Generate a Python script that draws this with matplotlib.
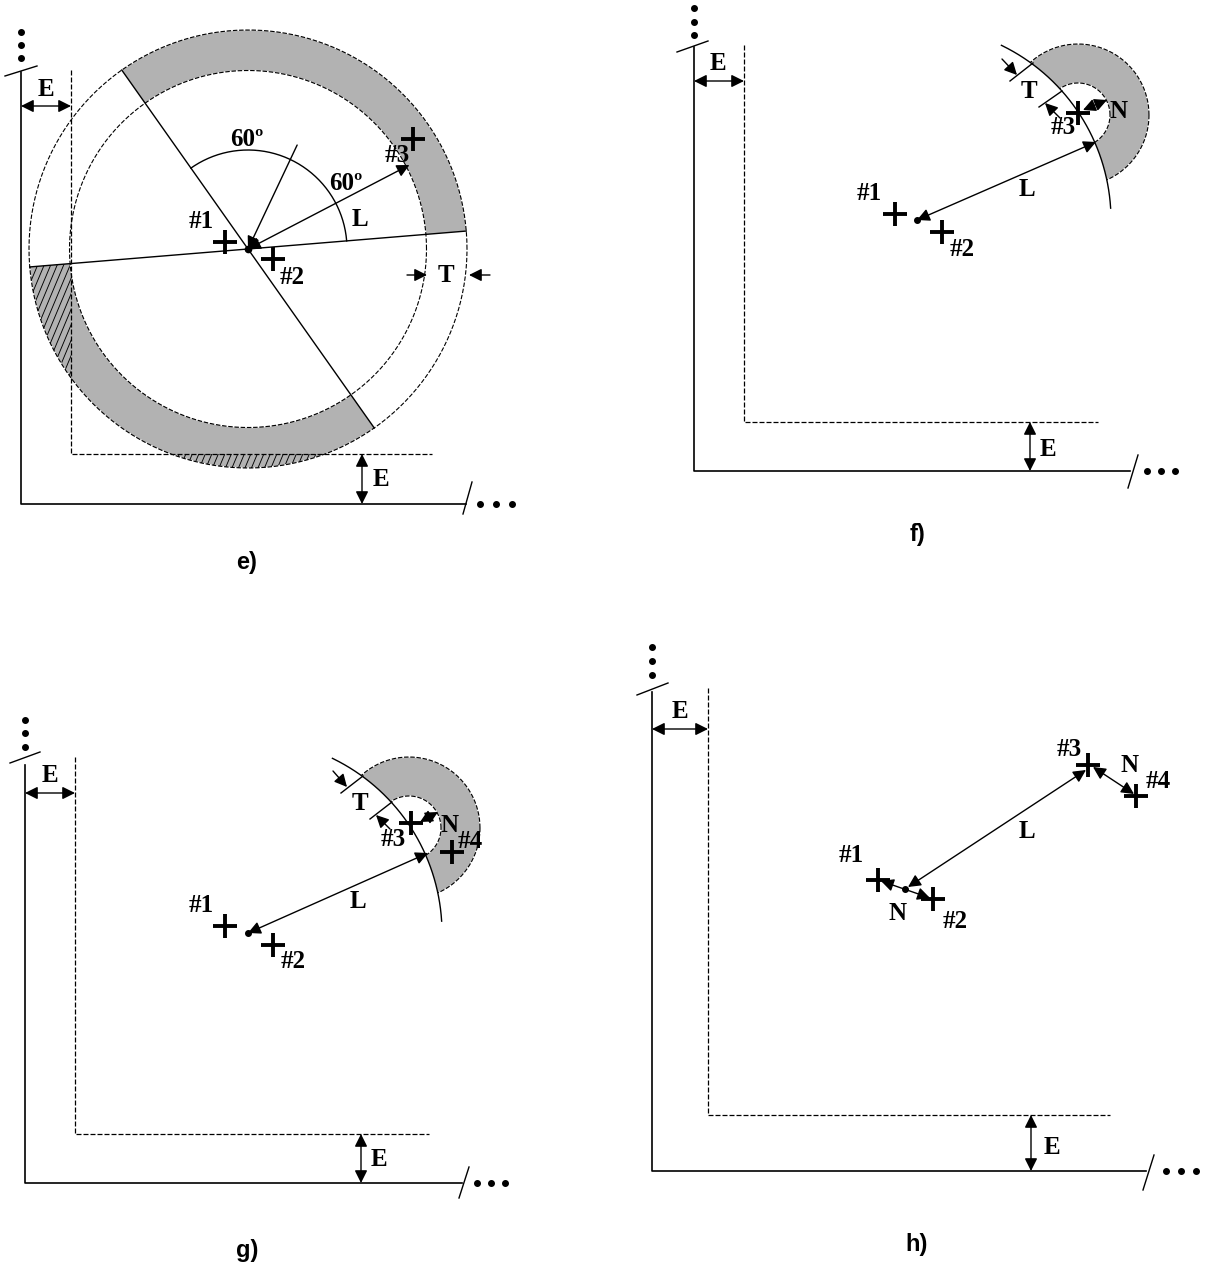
import numpy as np
import matplotlib
matplotlib.use("Agg")
import matplotlib.pyplot as plt
from matplotlib.path import Path
from matplotlib.patches import PathPatch, Rectangle, Circle

WIDTH, HEIGHT = 1210, 1265
GREY = "#b2b2b2"
SERIF = "Liberation Serif"

# ---- panel e ----
e_center = (248, 249)
e_radii = (178.5, 219)
e_split_deg = (4.7, 125.2, 184.7, 305.2)
e_axis = dict(x=21, y=504, top=72, right=466, dash_x=71, dash_y=454, dash_top=70, dash_right=432)
e_slash_v = [(5, 76), (37, 66)]
e_slash_h = [(463, 514), (472, 482)]
e_dots_v = [(21, 32), (21, 45), (21, 58)]
e_dots_h = [(480, 504), (496, 504), (512, 504)]
e_e_h = (106,)
e_e_v = (362,)
e_crosses = [(225, 242), (273, 259), (413, 139)]
e_labels = [("#1", 201, 222), ("#2", 292, 277), ("#3", 397, 155), ("E", 46, 89), ("E", 381, 480),
            ("T", 446, 276), ("L", 360, 219), ("60º", 247, 140), ("60º", 346, 184)]
e_caption = ("e)", 247, 563)

# ---- panel f ----
f_center = (917, 220)
f_big_r = 194
f_big_arc = (3.5, 64.2)
f_ring_center = (1078, 115)
f_ring_radii = (32, 71)
f_axis = dict(x=694, y=471, top=47, right=1130, dash_x=744, dash_y=422, dash_top=45, dash_right=1098)
f_slash_v = [(677, 52), (708, 41)]
f_slash_h = [(1128, 488), (1138, 455)]
f_dots_v = [(694, 8), (694, 22), (694, 35)]
f_dots_h = [(1147, 471), (1161, 471), (1175, 471)]
f_e_h = (81,)
f_e_v = (1030,)
f_crosses = [(895, 214), (942, 232), (1078, 113)]
f_segments = [[(1010, 81), (1033, 63)], [(1039, 107), (1062, 91)]]
f_arrows = [((1002, 59), (1017, 75)), ((1060, 118), (1045, 103))]
f_double = [((1083, 110), (1107, 100)), ((917, 220), (1096, 142))]
f_labels = [("#1", 869, 193), ("#2", 962, 250), ("#3", 1063, 128), ("T", 1029, 92), ("N", 1119, 112),
            ("L", 1027, 190), ("E", 718, 64), ("E", 1048, 449)]
f_caption = ("f)", 917, 534)

# ---- panel g ----
g_center = (248, 933)
g_big_r = 194
g_big_arc = (3.5, 64.2)
g_ring_center = (409, 828)
g_ring_radii = (32, 71)
g_axis = dict(x=25, y=1183, top=765, right=462, dash_x=75, dash_y=1134, dash_top=757, dash_right=429)
g_slash_v = [(10, 763), (40, 752)]
g_slash_h = [(459, 1198), (469, 1167)]
g_dots_v = [(25, 720), (25, 733), (25, 747)]
g_dots_h = [(477, 1183), (491, 1183), (505, 1183)]
g_e_h = (793,)
g_e_v = (361,)
g_crosses = [(225, 926), (273, 945), (411, 823), (452, 852)]
g_segments = [[(341, 793), (363, 776)], [(370, 819), (392, 802)]]
g_arrows = [((333, 771), (347, 787)), ((390, 829), (376, 815))]
g_double = [((420, 822), (438, 812)), ((248, 933), (428, 853))]
g_labels = [("#1", 201, 905), ("#2", 293, 961), ("#3", 393, 840), ("T", 360, 803), ("N", 450, 825),
            ("#4", 470, 842), ("L", 358, 902), ("E", 50, 776), ("E", 379, 1160)]
g_caption = ("g)", 247, 1250)

# ---- panel h ----
h_center = (905, 889)
h_axis = dict(x=652, y=1171, top=692, right=1146, dash_x=708, dash_y=1115, dash_top=688, dash_right=1110)
h_slash_v = [(637, 695), (668, 683)]
h_slash_h = [(1143, 1190), (1154, 1155)]
h_dots_v = [(652, 647), (652, 661), (652, 675)]
h_dots_h = [(1166, 1171), (1181, 1171), (1196, 1171)]
h_e_h = (729,)
h_e_v = (1031,)
h_crosses = [(878, 880), (933, 899), (1088, 765), (1136, 796)]
h_double = [((881, 881), (930, 898)), ((908, 887), (1086, 770)), ((1093, 767), (1134, 794))]
h_labels = [("#1", 851, 856), ("#2", 955, 921), ("#3", 1069, 750), ("N", 1130, 765), ("#4", 1158, 781),
            ("L", 1027, 832), ("N", 898, 914), ("E", 680, 711), ("E", 1052, 1147)]
h_caption = ("h)", 917, 1245)

# hatch strokes of panel e: x at the top of each stroke
hatch_offsets = np.arange(0, 560, 6.5)
hatch_lean = 0.42
hatch_top, hatch_bottom = 200, 480

fig = plt.figure(figsize=(WIDTH / 100, HEIGHT / 100), dpi=100)
ax = fig.add_axes([0, 0, 1, 1])
ax.set_xlim(0, WIDTH)
ax.set_ylim(HEIGHT, 0)
ax.axis("off")


def arc(c, r, a0, a1, n=200):
    t = np.radians(np.linspace(a0, a1, n))
    return c[0] + r * np.cos(t), c[1] - r * np.sin(t)


def ring_path(c, r0, r1, a0, a1):
    x1, y1 = arc(c, r1, a0, a1)
    x0, y0 = arc(c, r0, a1, a0)
    v = np.r_[np.c_[x1, y1], np.c_[x0, y0], [[x1[0], y1[0]]]]
    return Path(v, closed=True)


def arrow(p, q, both=False):
    ax.annotate("", xy=q, xytext=p, zorder=6,
                arrowprops=dict(arrowstyle="<|-|>" if both else "-|>", color="black", lw=1.0,
                                mutation_scale=19, shrinkA=0, shrinkB=0))


def frame(a, slash_v, slash_h, dots_v, dots_h, e_h, e_v):
    ax.plot([a["x"], a["x"], a["right"]], [a["top"], a["y"], a["y"]], color="black", lw=1.2, zorder=4)
    ax.plot([a["dash_x"], a["dash_x"], a["dash_right"]], [a["dash_top"], a["dash_y"], a["dash_y"]],
            color="black", lw=0.9, dashes=(4, 1.6), zorder=4)
    for s in (slash_v, slash_h):
        ax.plot(*zip(*s), color="black", lw=1.0, zorder=4)
    ax.plot(*zip(*(dots_v + dots_h)), ls="none", marker="o", ms=4.0, color="black", zorder=4)
    arrow((a["x"], e_h[0]), (a["dash_x"], e_h[0]), True)
    arrow((e_v[0], a["dash_y"]), (e_v[0], a["y"]), True)


def crosses(pts):
    ax.plot(*zip(*pts), ls="none", marker="+", ms=17, mew=2.8, color="black", zorder=7)


def labels(items):
    for s, x, y in items:
        ax.text(x, y, s, family=SERIF, weight="bold", fontsize=18, ha="center", va="center", zorder=8)


def caption(c):
    ax.text(c[1], c[2], c[0], family="Liberation Sans", weight="bold", fontsize=17, ha="center", va="center")


# panel e: grey sectors, hatched where they leave the dashed rectangle
r0, r1 = e_radii
sectors = [(e_split_deg[0], e_split_deg[1]), (e_split_deg[2], e_split_deg[3])]
for a0, a1 in sectors:
    ax.add_patch(PathPatch(ring_path(e_center, r0, r1, a0, a1), fc=GREY, ec="none", zorder=1))
low = PathPatch(ring_path(e_center, r0, r1, sectors[1][0], sectors[1][1]), fc="none", ec="none", zorder=1)
ax.add_patch(low)
for x0 in hatch_offsets:
    ln, = ax.plot([x0, x0 - (hatch_bottom - hatch_top) * hatch_lean], [hatch_top, hatch_bottom],
                  color="black", lw=0.65, zorder=1.5)
    ln.set_clip_path(low)
inner = PathPatch(ring_path(e_center, r0, r1, sectors[1][0], sectors[1][1]), fc=GREY, ec="none", zorder=2)
ax.add_patch(inner)
inner.set_clip_path(Rectangle((e_axis["dash_x"], 0), 700, e_axis["dash_y"], transform=ax.transData))
for r in e_radii:
    x, y = arc(e_center, r, 0, 360, 500)
    ax.plot(x, y, color="black", lw=0.8, dashes=(4, 1.6), gapcolor="white", zorder=3)
for a in e_split_deg[:2]:
    x, y = arc(e_center, e_radii[1], a, a + 180, 2)
    ax.plot(x, y, color="black", lw=1.0, zorder=4)
xa, ya = arc(e_center, 99, e_split_deg[0], e_split_deg[1])
ax.plot(xa, ya, color="black", lw=1.0, zorder=4)
xs, ys = arc(e_center, 115, 64.7, 64.7, 2)
arrow((xs[0], ys[0]), e_center)
xl, yl = arc(e_center, 182, 27.5, 27.5, 2)
arrow(e_center, (xl[0], yl[0]), True)
arrow((407, 275), (427, 275))
arrow((490, 275), (469, 275))
ax.plot(*e_center, marker="o", ms=4.5, color="black", zorder=7)
frame(e_axis, e_slash_v, e_slash_h, e_dots_v, e_dots_h, e_e_h, e_e_v)
crosses(e_crosses)
labels(e_labels)
caption(e_caption)


# panels f, g: grey annulus outside the big circle
def lobed(center, big_r, big_arc, ring_c, ring_r, segs, arrs, dbl):
    ax.add_patch(PathPatch(ring_path(ring_c, ring_r[0], ring_r[1], 0, 360), fc=GREY, ec="none", zorder=1))
    for r in ring_r:
        x, y = arc(ring_c, r, 0, 360, 300)
        ax.plot(x, y, color="black", lw=0.8, dashes=(4, 1.6), gapcolor="white", zorder=1.2)
    ax.add_patch(Circle(center, big_r, fc="white", ec="none", zorder=1.5))
    x, y = arc(center, big_r, *big_arc)
    ax.plot(x, y, color="black", lw=1.0, zorder=4)
    for s in segs:
        ax.plot(*zip(*s), color="black", lw=1.0, zorder=4)
    for p, q in arrs:
        arrow(p, q)
    for p, q in dbl:
        arrow(p, q, True)
    ax.plot(*center, marker="o", ms=4.0, color="black", zorder=7)


lobed(f_center, f_big_r, f_big_arc, f_ring_center, f_ring_radii, f_segments, f_arrows, f_double)
frame(f_axis, f_slash_v, f_slash_h, f_dots_v, f_dots_h, f_e_h, f_e_v)
crosses(f_crosses)
labels(f_labels)
caption(f_caption)

lobed(g_center, g_big_r, g_big_arc, g_ring_center, g_ring_radii, g_segments, g_arrows, g_double)
frame(g_axis, g_slash_v, g_slash_h, g_dots_v, g_dots_h, g_e_h, g_e_v)
crosses(g_crosses)
labels(g_labels)
caption(g_caption)

# panel h
frame(h_axis, h_slash_v, h_slash_h, h_dots_v, h_dots_h, h_e_h, h_e_v)
for p, q in h_double:
    arrow(p, q, True)
ax.plot(*h_center, marker="o", ms=4.0, color="black", zorder=7)
crosses(h_crosses)
labels(h_labels)
caption(h_caption)

fig.savefig("out.png", dpi=100, facecolor="white")
